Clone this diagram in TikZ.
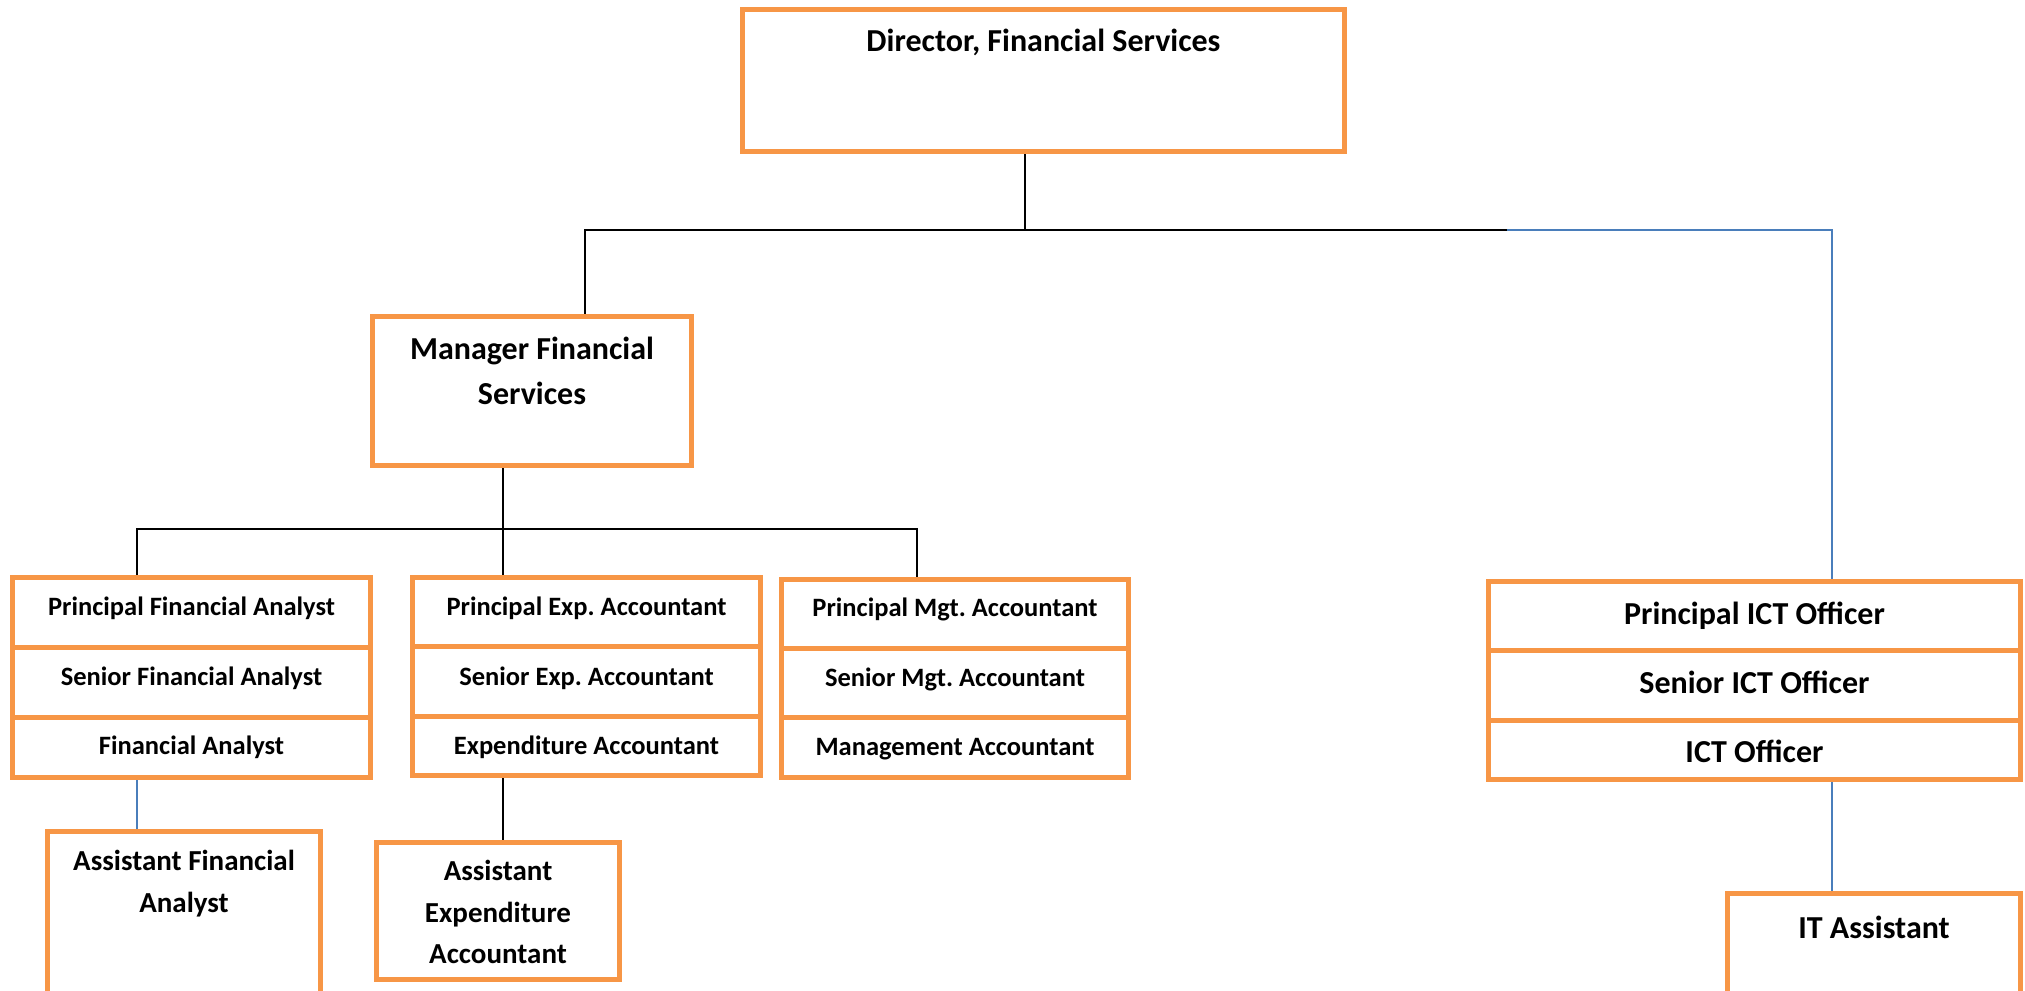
\documentclass[tikz,border=0pt]{standalone}
\usepackage{fontspec}
\setmainfont{Carlito}
\frenchspacing
\usetikzlibrary{fit,backgrounds}
\definecolor{boxorange}{HTML}{F79646}
\definecolor{linkblue}{HTML}{4A7EBB}
\tikzset{
  orgbox/.style={draw=boxorange, line width=5pt, inner sep=0pt, outer sep=0pt},
  divider/.style={draw=boxorange, line width=5pt},
  conn/.style={draw=black, line width=1.8pt},
  bconn/.style={draw=linkblue, line width=1.8pt},
  lbl/.style={anchor=base, inner sep=0pt, text=black, font=\bfseries\fontsize{#1}{#1}\selectfont},
}
\begin{document}
\begin{tikzpicture}[x=1pt,y=-1pt]
\useasboundingbox (0,0) rectangle (2025,990);
% boxes
\node[orgbox, fit={(742.5,10) (1344.5,151.5)}] (dir) {};
\node[orgbox, fit={(372.5,316.5) (691.5,465.5)}] (mgr) {};
\node[orgbox, fit={(12.5,577.5) (370.5,777.5)}] (col1) {};
\node[orgbox, fit={(412.5,577.5) (760.5,775.5)}] (col2) {};
\node[orgbox, fit={(781.5,579.5) (1128.5,777.5)}] (col3) {};
\node[orgbox, fit={(1488.5,581.5) (2020.5,779.5)}] (ict) {};
\node[orgbox, fit={(47.5,831.5) (320.5,996)}] (afa) {};
\node[orgbox, fit={(376.5,842.5) (619.5,979.5)}] (aea) {};
\node[orgbox, fit={(1727.5,893.5) (2020.5,996)}] (ita) {};
% dividers
\draw[divider] (col1.west |- 0,647) -- (col1.east |- 0,647);
\draw[divider] (col1.west |- 0,717) -- (col1.east |- 0,717);
\draw[divider] (col2.west |- 0,646) -- (col2.east |- 0,646);
\draw[divider] (col2.west |- 0,716) -- (col2.east |- 0,716);
\draw[divider] (col3.west |- 0,648) -- (col3.east |- 0,648);
\draw[divider] (col3.west |- 0,717) -- (col3.east |- 0,717);
\draw[divider] (ict.west |- 0,650) -- (ict.east |- 0,650);
\draw[divider] (ict.west |- 0,720) -- (ict.east |- 0,720);
% labels
\node[lbl=32] (dir-t) at (1043.5,52) {Director, Financial Services};
\node[lbl=32] (mgr-t1) at (532,359) {Manager Financial};
\node[lbl=32] (mgr-t2) at (532,404) {Services};
\node[lbl=26.5] (c1-t1) at (191.5,615) {Principal Financial Analyst};
\node[lbl=26.5] (c1-t2) at (191.5,685) {Senior Financial Analyst};
\node[lbl=26.5] (c1-t3) at (191.5,754) {Financial Analyst};
\node[lbl=26.5] (c2-t1) at (586.5,615) {Principal Exp. Accountant};
\node[lbl=26.5] (c2-t2) at (586.5,685) {Senior Exp. Accountant};
\node[lbl=26.5] (c2-t3) at (586.5,754) {Expenditure Accountant};
\node[lbl=26.5] (c3-t1) at (955,616) {Principal Mgt. Accountant};
\node[lbl=26.5] (c3-t2) at (955,686) {Senior Mgt. Accountant};
\node[lbl=26.5] (c3-t3) at (955,755) {Management Accountant};
\node[lbl=32] (ict-t1) at (1754.5,624) {Principal ICT Officer};
\node[lbl=32] (ict-t2) at (1754.5,693) {Senior ICT Officer};
\node[lbl=32] (ict-t3) at (1754.5,762) {ICT Officer};
\node[lbl=29] (afa-t1) at (184,870) {Assistant Financial};
\node[lbl=29] (afa-t2) at (184,912) {Analyst};
\node[lbl=29] (aea-t1) at (498,880) {Assistant};
\node[lbl=29] (aea-t2) at (498,922) {Expenditure};
\node[lbl=29] (aea-t3) at (498,963) {Accountant};
\node[lbl=32] (ita-t) at (1874,938) {IT Assistant};
% junctions
\coordinate (dj) at (1025,230);
\coordinate (lj) at (585,230);
\coordinate (bj) at (1507,230);
\coordinate (rj) at (1832,230);
\coordinate (mj) at (503,529);
\coordinate (c1j) at (137,529);
\coordinate (c3j) at (917,529);
\begin{scope}[on background layer]
  \fill[white] (0,0) rectangle (2025,990);
  \draw[conn] (dir.south -| dj) -- (dj);
  \draw[conn] (mgr.north -| lj) -- (lj) -- (bj);
  \draw[bconn] (bj) -- (rj) -- (ict.north -| rj);
  \draw[conn] (mgr.south -| mj) -- (mj) -- (col2.north -| mj);
  \draw[conn] (col1.north -| c1j) -- (c1j) -- (c3j) -- (col3.north -| c3j);
  \draw[bconn] (col1.south -| c1j) -- (afa.north -| c1j);
  \draw[conn] (col2.south -| mj) -- (aea.north -| mj);
  \draw[bconn] (ict.south -| rj) -- (ita.north -| rj);
\end{scope}
\end{tikzpicture}
\end{document}
